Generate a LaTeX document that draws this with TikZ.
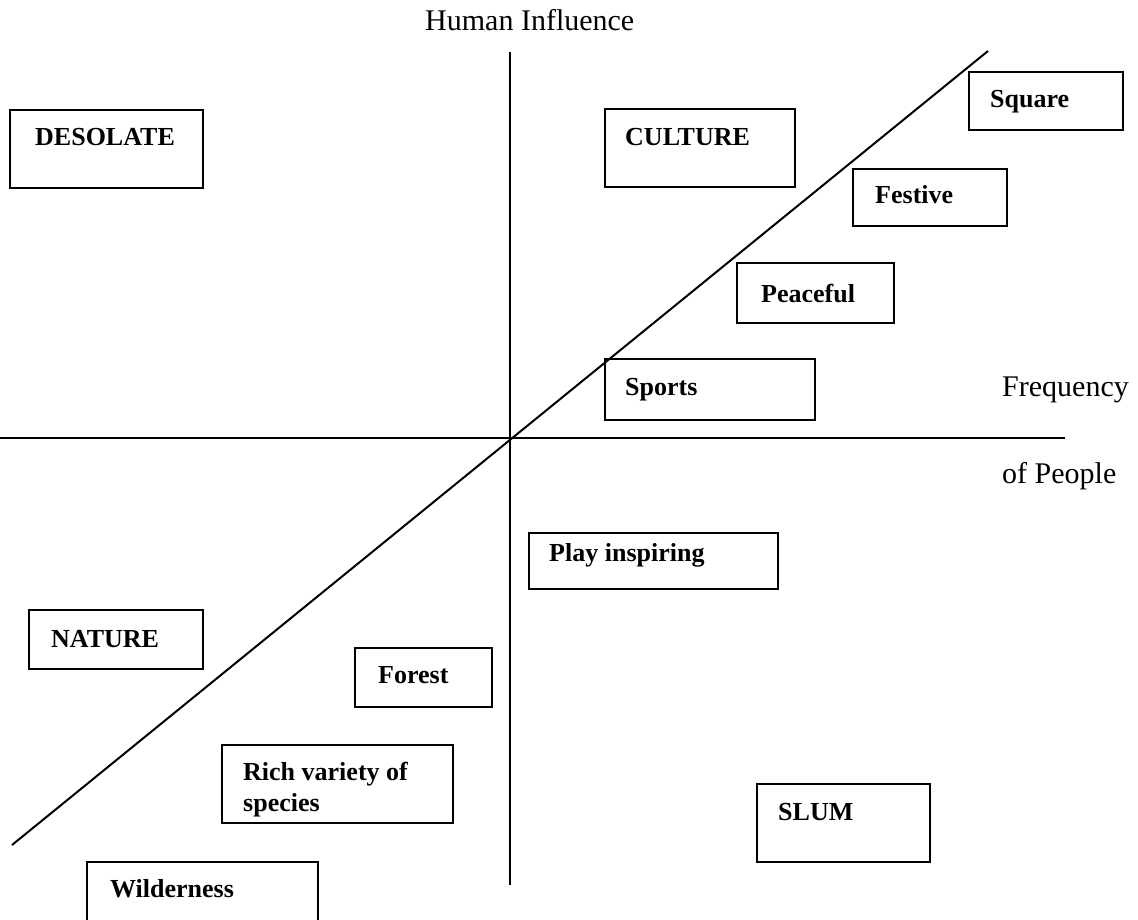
\documentclass[tikz,border=0pt]{standalone}
\usepackage{fontspec}
\setmainfont{Liberation Serif}
\begin{document}
\begin{tikzpicture}[x=1pt,y=-1pt,
  axisline/.style={line width=2pt},
  frame/.style={draw, line width=2.2pt, anchor=north west, inner sep=0pt, outer sep=0pt},
  boxtext/.style={font=\fontsize{26}{31}\selectfont\bfseries, anchor=base west, inner sep=0pt},
  axistext/.style={font=\fontsize{30}{34}\selectfont, anchor=base west, inner sep=0pt}]
% page area
\clip (0,0) rectangle (1138,919);
\fill[white] (0,0) rectangle (1138,919);

% axes and diagonal
\coordinate (vtop) at (510,52);
\coordinate (vbot) at (510,885);
\coordinate (hleft) at (0,438);
\coordinate (hright) at (1065,438);
\coordinate (dlow) at (12,845);
\coordinate (dhigh) at (988,51);
\draw[axisline] (vtop) -- (vbot);
\draw[axisline] (hleft) -- (hright);
\draw[axisline] (dlow) -- (dhigh);

% axis titles
\node[axistext] (yname) at (425,30) {Human Influence};
\node[axistext] (xname1) at (1002,396) {Frequency};
\node[axistext] (xname2) at (1002,483) {of People};

% labelled boxes: name, left, top, right, bottom, text x, text baseline, text
\newcommand\tagbox[8]{%
  \node[frame, minimum width={#4-#2}, minimum height={#5-#3}] (#1) at (#2,#3) {};
  \node[boxtext] (#1-text) at (#6,#7) {#8};}

\tagbox{desolate}{10}{110}{203}{188}{35}{145}{DESOLATE}
\tagbox{culture}{605}{109}{795}{187}{625}{145}{CULTURE}
\tagbox{square}{969}{72}{1123}{130}{990}{107}{Square}
\tagbox{festive}{853}{169}{1007}{226}{875}{203}{Festive}
\tagbox{peaceful}{737}{263}{894}{323}{761}{302}{Peaceful}
\tagbox{sports}{605}{359}{815}{420}{625}{395}{Sports}
\tagbox{play}{529}{533}{778}{589}{549}{561}{Play inspiring}
\tagbox{nature}{29}{610}{203}{669}{51}{647}{NATURE}
\tagbox{forest}{355}{648}{492}{707}{378}{683}{Forest}
\tagbox{slum}{757}{784}{930}{862}{778}{820}{SLUM}
\tagbox{wild}{87}{862}{318}{940}{110}{897}{Wilderness}

% two-line box
\node[frame, minimum width=231, minimum height=78] (rich) at (222,745) {};
\node[boxtext] (rich-text1) at (243,780) {Rich variety of};
\node[boxtext] (rich-text2) at (243,811) {species};
\end{tikzpicture}
\end{document}
